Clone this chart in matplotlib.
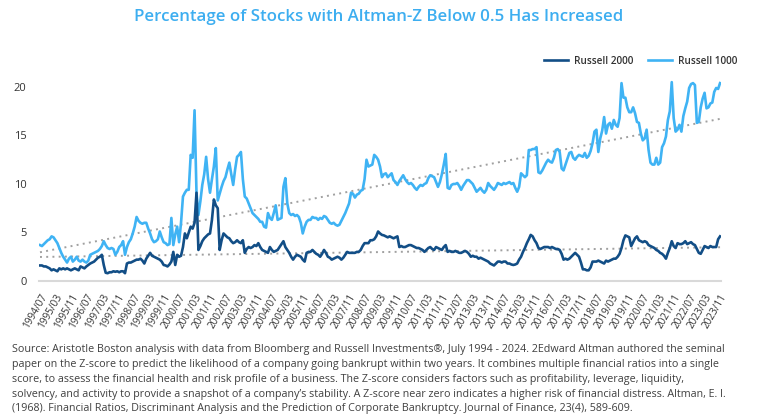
import numpy as np
import pandas as pd
import matplotlib
matplotlib.use("Agg")
import matplotlib.pyplot as plt
import matplotlib.transforms as mtransforms

plt.rcParams['font.family'] = ['Open Sans', 'DejaVu Sans']

# monthly share (%) of stocks with Altman-Z below 0.5, 1994/07 .. 2023/11
# one row per calendar year (1994 starts in July, 2023 ends in November)
russell_1000 = [
    3.7, 3.6, 3.8, 4.0, 4.2, 4.3,
    4.6, 4.5, 4.2, 3.9, 3.4, 2.9, 2.5, 2.2, 1.9, 2.3, 2.5, 2.0,
    2.2, 2.5, 2.1, 2.0, 2.2, 2.0, 1.9, 2.1, 2.7, 2.8, 2.9, 3.0,
    3.1, 3.3, 3.6, 4.1, 3.7, 3.4, 3.3, 3.4, 3.3, 2.7, 3.0, 3.5,
    3.7, 4.1, 2.7, 3.5, 4.0, 4.3, 4.9, 5.6, 6.6, 6.2, 6.0, 5.9,
    6.0, 6.0, 5.4, 4.9, 4.3, 4.0, 4.1, 4.3, 5.1, 4.5, 4.0, 3.9,
    3.7, 3.8, 6.5, 3.7, 4.8, 5.6, 4.0, 6.0, 8.7, 9.1, 9.4, 9.4,
    13.0, 12.7, 17.6, 9.1, 6.8, 8.2, 9.9, 11.0, 12.8, 10.5, 9.1, 10.5,
    11.8, 13.7, 8.3, 9.0, 9.7, 10.3, 10.7, 11.5, 12.2, 11.0, 9.9, 11.5,
    12.8, 13.0, 13.3, 10.5, 8.7, 8.5, 8.0, 7.5, 7.0, 6.8, 6.6, 6.4,
    6.1, 6.1, 5.6, 5.5, 7.0, 6.5, 6.3, 7.0, 7.8, 6.3, 6.4, 6.5,
    9.7, 10.6, 8.0, 7.0, 6.8, 6.9, 6.7, 6.8, 6.6, 6.0, 4.9, 5.6,
    6.1, 6.3, 6.3, 6.6, 6.5, 6.5, 6.3, 6.5, 6.4, 6.7, 6.6, 6.3,
    6.0, 5.9, 6.0, 5.8, 5.7, 5.8, 6.2, 6.6, 7.0, 7.5, 8.0, 9.1,
    9.0, 8.6, 8.9, 9.0, 9.3, 9.4, 10.5, 12.5, 11.8, 11.9, 12.0, 13.0,
    12.8, 12.5, 11.8, 10.7, 11.0, 11.1, 10.7, 10.9, 11.1, 10.4, 10.2, 9.9,
    10.3, 10.6, 10.9, 10.5, 10.2, 10.0, 10.1, 9.9, 9.6, 9.4, 9.7, 9.9,
    9.8, 10.0, 10.1, 10.6, 10.9, 10.8, 10.7, 10.2, 9.7, 10.2, 11.0, 12.0,
    13.1, 9.6, 9.5, 9.9, 10.0, 10.0, 10.1, 9.8, 9.4, 9.8, 10.1, 10.4,
    10.4, 10.2, 10.0, 9.6, 9.2, 9.4, 9.6, 9.3, 9.1, 9.4, 10.1, 9.8,
    9.6, 9.4, 9.7, 10.1, 10.0, 9.9, 10.1, 10.0, 10.1, 10.2, 10.0, 10.1,
    9.6, 9.2, 9.7, 11.1, 10.9, 10.7, 10.9, 13.5, 13.5, 13.6, 13.6, 13.8,
    11.2, 11.1, 11.4, 11.8, 12.2, 12.5, 12.3, 12.2, 12.7, 13.5, 13.6, 13.3,
    11.6, 11.4, 12.0, 12.6, 13.2, 13.3, 12.7, 12.5, 12.8, 13.0, 12.9, 12.8,
    13.2, 12.7, 12.9, 13.4, 14.2, 15.4, 15.6, 13.3, 14.7, 15.5, 16.9, 15.2,
    16.1, 16.3, 15.7, 16.6, 16.1, 15.9, 16.8, 20.4, 18.9, 18.9, 17.9, 17.4,
    17.4, 17.9, 17.3, 16.4, 16.3, 15.2, 14.5, 14.7, 15.6, 13.5, 12.2, 12.0,
    12.0, 12.7, 12.0, 12.2, 13.8, 14.2, 14.9, 16.6, 17.5, 20.5, 16.8, 15.4,
    15.6, 16.1, 15.4, 17.0, 17.8, 18.5, 19.9, 20.3, 20.4, 20.2, 16.3, 16.4,
    17.9, 18.8, 19.4, 17.8, 17.9, 18.3, 18.4, 19.5, 19.9, 19.8, 20.4,
]

russell_2000 = [
    1.6, 1.6, 1.5, 1.5, 1.4, 1.3,
    1.1, 1.2, 1.1, 1.0, 1.3, 1.2, 1.3, 1.2, 1.3, 1.2, 1.1, 1.2,
    1.3, 1.2, 1.1, 1.5, 1.4, 1.3, 1.5, 1.65, 1.8, 1.9, 2.0, 2.2,
    2.4, 2.5, 2.7, 1.65, 0.85, 0.8, 0.9, 0.9, 1.0, 0.95, 1.0, 0.9,
    1.0, 1.0, 0.8, 1.8, 1.9, 1.9, 2.0, 2.1, 2.2, 2.2, 2.3, 2.1,
    1.8, 2.3, 2.6, 2.9, 2.6, 2.5, 2.4, 2.3, 2.2, 2.0, 1.65, 1.6,
    1.5, 1.7, 2.0, 3.0, 1.65, 2.7, 2.5, 2.6, 3.5, 4.9, 4.4, 5.0,
    5.6, 5.4, 6.0, 9.1, 3.2, 3.6, 4.1, 4.4, 4.6, 4.8, 4.9, 6.3,
    8.4, 7.8, 7.5, 3.2, 4.2, 4.9, 4.7, 4.5, 4.4, 4.1, 3.9, 4.0,
    4.2, 4.0, 3.9, 4.2, 2.9, 3.3, 3.5, 3.4, 3.5, 3.7, 3.6, 3.9,
    3.5, 3.2, 3.1, 3.0, 2.9, 3.5, 3.2, 3.0, 3.1, 3.2, 3.5, 3.8,
    4.1, 3.5, 3.2, 2.9, 2.5, 2.2, 2.5, 2.7, 2.6, 2.5, 2.2, 2.0,
    2.9, 3.0, 3.0, 3.2, 3.0, 2.8, 2.7, 2.5, 2.8, 3.2, 2.9, 2.5,
    2.4, 2.2, 2.3, 2.4, 2.5, 2.4, 2.2, 2.4, 2.7, 3.0, 2.9, 2.9,
    2.9, 2.9, 3.0, 3.0, 3.2, 3.6, 3.9, 3.9, 3.9, 4.2, 4.2, 4.3,
    4.6, 5.1, 4.9, 4.75, 4.7, 4.6, 4.5, 4.6, 4.5, 4.4, 4.5, 4.6,
    3.5, 3.6, 3.5, 3.5, 3.6, 3.7, 3.7, 3.6, 3.5, 3.4, 3.4, 3.3,
    3.2, 3.0, 3.2, 3.4, 3.5, 3.3, 3.2, 3.5, 3.4, 3.3, 3.2, 3.5,
    3.7, 3.0, 3.1, 3.0, 3.0, 3.1, 3.0, 2.9, 2.9, 3.0, 3.1, 3.0,
    2.8, 2.5, 2.6, 2.5, 2.5, 2.3, 2.4, 2.3, 2.2, 2.1, 2.0, 1.8,
    1.7, 1.6, 1.8, 2.0, 2.0, 1.9, 2.0, 2.0, 1.8, 1.8, 1.7, 1.65,
    1.7, 1.8, 2.2, 2.5, 3.0, 3.4, 3.9, 4.3, 4.75, 4.6, 4.2, 3.9,
    3.4, 3.3, 3.4, 3.5, 3.5, 3.5, 3.4, 3.5, 3.4, 3.3, 3.3, 3.2,
    2.8, 2.2, 2.3, 2.2, 2.3, 2.5, 2.7, 2.9, 2.7, 2.5, 1.9, 1.2,
    1.2, 1.1, 1.1, 1.4, 2.0, 2.0, 2.0, 2.1, 2.0, 1.9, 1.8, 2.1,
    2.0, 2.1, 2.2, 2.3, 2.3, 2.5, 2.8, 3.4, 4.2, 4.7, 4.6, 4.5,
    3.6, 4.0, 4.4, 4.6, 4.2, 4.1, 4.0, 4.1, 4.0, 3.7, 3.6, 3.5,
    3.4, 3.2, 3.1, 2.9, 2.8, 2.6, 2.3, 2.9, 3.4, 4.1, 3.6, 3.4,
    3.9, 3.8, 3.8, 3.9, 4.1, 3.8, 3.9, 4.0, 3.8, 3.7, 3.3, 2.9,
    2.8, 3.2, 3.6, 3.5, 3.4, 3.6, 3.5, 3.5, 3.5, 4.3, 4.6,
]

months = pd.date_range('1994-07-01', '2023-11-01', freq='MS')
month_labels = months.strftime('%Y/%m').tolist()
tick_step = 8

title = 'Percentage of Stocks with Altman-Z Below 0.5 Has Increased'
source = ("Source: Aristotle Boston analysis with data from Bloomberg and Russell Investments\u00ae, July 1994 - 2024. 2Edward Altman authored the seminal\n"
          "paper on the Z-score to predict the likelihood of a company going bankrupt within two years. It combines multiple financial ratios into a single\n"
          "score, to assess the financial health and risk profile of a business. The Z-score considers factors such as profitability, leverage, liquidity,\n"
          "solvency, and activity to provide a snapshot of a company\u2019s stability. A Z-score near zero indicates a higher risk of financial distress. Altman, E. I.\n"
          "(1968). Financial Ratios, Discriminant Analysis and the Prediction of Corporate Bankruptcy. Journal of Finance, 23(4), 589-609.")

df = pd.DataFrame({'Russell 2000': russell_2000, 'Russell 1000': russell_1000}, index=month_labels)
x = np.arange(len(df))

dark = '#124e86'
light = '#3fb3f4'

fig = plt.figure(figsize=(7.58, 4.18), dpi=100)
ax = fig.add_axes([0.0515, 0.3278, 0.8997, 0.5105])

l1000, = ax.plot(x, df['Russell 1000'], color=light, lw=1.9, label='Russell 1000', zorder=2)
l2000, = ax.plot(x, df['Russell 2000'], color=dark, lw=1.9, label='Russell 2000', zorder=3)

# linear trend lines
for col in ['Russell 1000', 'Russell 2000']:
    k, b = np.polyfit(x, df[col].values, 1)
    ax.plot(x, k * x + b, color='#a0a0a0', lw=1.4, ls=(0, (1, 2.2)), zorder=1)

ax.set_xlim(-0.5, len(df) - 0.5)
ax.set_ylim(0, 22)
ax.set_yticks([0, 5, 10, 15, 20])
ticks = x[::tick_step]
ax.set_xticks(ticks)
ax.set_xticklabels([month_labels[i] for i in ticks], rotation=60, ha='right',
                   rotation_mode='anchor', fontsize=7.2, color='#333333')
offset = mtransforms.ScaledTranslation(5 / 72, -2 / 72, fig.dpi_scale_trans)
for lab in ax.get_xticklabels():
    lab.set_transform(lab.get_transform() + offset)
ax.tick_params(axis='x', length=0, pad=8)
ax.tick_params(axis='y', length=0, pad=9, labelsize=8, labelcolor='#333333')

for s in ['top', 'right', 'left']:
    ax.spines[s].set_visible(False)
ax.spines['bottom'].set_color('#d9d9d9')
ax.spines['bottom'].set_linewidth(1.5)

fig.legend(handles=[l2000, l1000], loc='center right', bbox_to_anchor=(737 / 758, 1 - 61 / 418),
           ncol=2, frameon=False, prop={'weight': 'semibold', 'size': 7.2},
           handlelength=2.4, handletextpad=0.6, columnspacing=1.4, borderpad=0, borderaxespad=0,
           labelcolor='#333333')

fig.text(0.5, 1 - 17 / 418, title, ha='center', va='center', fontsize=12.2,
         fontweight='semibold', color='#3daef0')
fig.text(12 / 758, 1 - 344 / 418, source, ha='left', va='top', fontsize=7.75,
         color='#404040', linespacing=1.48)

fig.savefig('out.png', dpi=100)
